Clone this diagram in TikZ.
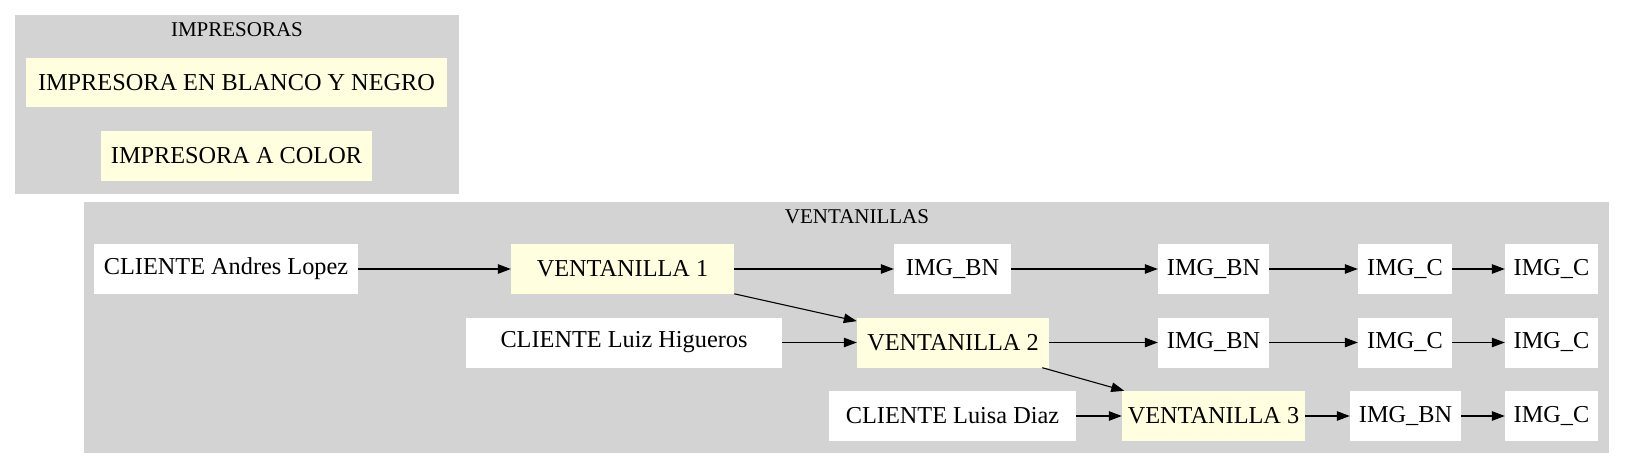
\documentclass[tikz,border=0pt]{standalone}
\usepackage{fontspec}
\setmainfont{Liberation Serif}
\usetikzlibrary{arrows.meta}
\definecolor{clgray}{HTML}{D3D3D3}
\definecolor{lyellow}{HTML}{FFFFE0}
\tikzset{
  box/.style={rectangle, inner sep=0pt, minimum height=50pt, font=\fontsize{24.3}{28}\selectfont},
  wbox/.style={box, fill=white},
  ybox/.style={box, fill=lyellow},
  cluster/.style={fill=clgray, draw=clgray},
  ctitle/.style={font=\fontsize{21}{24}\selectfont, inner sep=0pt},
  edge/.style={-{Triangle[length=13pt,width=9.5pt]}, line width=1.1pt, black}
}
\begin{document}
\begin{tikzpicture}[x=1pt,y=-1pt]
\useasboundingbox (0,0) rectangle (1648,468);
% IMPRESORAS cluster
\draw[cluster] (15,15) rectangle (458,193);
\node[ctitle] (timp) at (237,30) {IMPRESORAS};
\node[ybox, minimum width=421pt, minimum height=49pt] (p1) at (236.5,82.5) {IMPRESORA EN BLANCO Y NEGRO};
\node[ybox, minimum width=271pt] (p2) at (236.5,156) {IMPRESORA A COLOR};
% VENTANILLAS cluster
\draw[cluster] (84,202) rectangle (1608,452);
\node[ctitle] (tven) at (857,217) {VENTANILLAS};
% row 1
\node[wbox, minimum width=264pt] (c1) at (226,269) {CLIENTE Andres Lopez};
\node[ybox, minimum width=223pt] (v1) at (622.5,269) {VENTANILLA 1};
\node[wbox, minimum width=117pt] (b11) at (952.5,269) {IMG\_BN};
\node[wbox, minimum width=111pt] (b12) at (1213.5,269) {IMG\_BN};
\node[wbox, minimum width=94pt] (k11) at (1405,269) {IMG\_C};
\node[wbox, minimum width=93pt] (k12) at (1551.5,269) {IMG\_C};
% row 2
\node[wbox, minimum width=316pt] (c2) at (624,342.5) {CLIENTE Luiz Higueros};
\node[ybox, minimum width=192pt] (v2) at (953,342.5) {VENTANILLA 2};
\node[wbox, minimum width=111pt] (b21) at (1213.5,342.5) {IMG\_BN};
\node[wbox, minimum width=94pt] (k21) at (1405,342.5) {IMG\_C};
\node[wbox, minimum width=93pt] (k22) at (1551.5,342.5) {IMG\_C};
% row 3
\node[wbox, minimum width=247pt] (c3) at (952.5,416) {CLIENTE Luisa Diaz};
\node[ybox, minimum width=183pt] (v3) at (1213.5,416) {VENTANILLA 3};
\node[wbox, minimum width=111pt] (b31) at (1405.5,416) {IMG\_BN};
\node[wbox, minimum width=93pt] (k31) at (1551.5,416) {IMG\_C};
% edges
\draw[edge] (c1) -- (v1);
\draw[edge] (v1) -- (b11);
\draw[edge] (b11) -- (b12);
\draw[edge] (b12) -- (k11);
\draw[edge] (k11) -- (k12);
\draw[edge] (v1) -- (v2);
\draw[edge] (c2) -- (v2);
\draw[edge] (v2) -- (b21);
\draw[edge] (b21) -- (k21);
\draw[edge] (k21) -- (k22);
\draw[edge] (v2) -- (v3);
\draw[edge] (c3) -- (v3);
\draw[edge] (v3) -- (b31);
\draw[edge] (b31) -- (k31);
\end{tikzpicture}
\end{document}
